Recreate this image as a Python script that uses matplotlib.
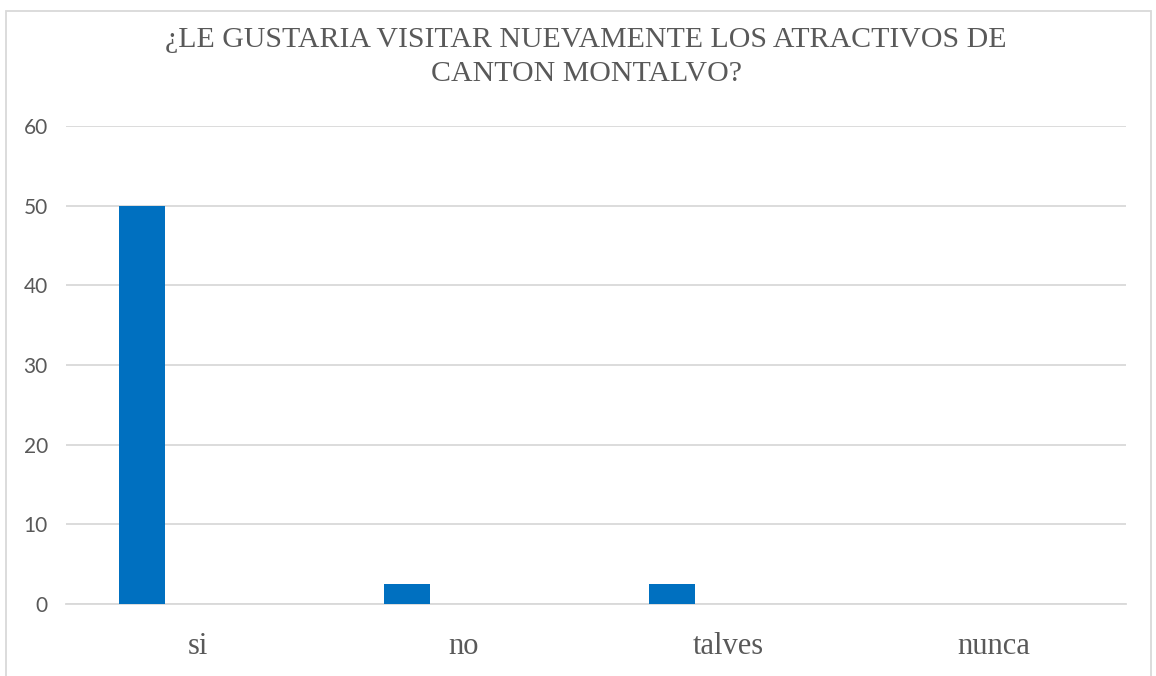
import matplotlib.pyplot as plt
import numpy as np
from matplotlib.patches import Rectangle

categorias = ["si", "no", "talves", "nunca"]
valores = [50, 2.5, 2.5, 0]
ticks_y = [0, 10, 20, 30, 40, 50, 60]

fig = plt.figure(figsize=(11.56, 6.76), dpi=100)
ax = fig.add_axes([0.057, 0.1065, 0.917, 0.7071])

x = np.arange(len(categorias))
ax.bar(x - 0.213, valores, width=0.174, color="#0070c0", zorder=3)

ax.set_xlim(-0.5, len(categorias) - 0.5)
ax.set_ylim(0, 60)
ax.set_yticks(ticks_y)
ax.set_yticklabels([str(t) for t in ticks_y], fontsize=15, color="#595959", family="Lato")
ax.set_xticks(x)
ax.set_xticklabels(categorias, fontsize=22, color="#595959", family="Liberation Serif")
ax.tick_params(length=0, axis="y", pad=13)
ax.tick_params(length=0, axis="x", pad=20)

ax.grid(axis="y", color="#d9d9d9", linewidth=1.3, zorder=0)
for s in ["top", "right", "left"]:
    ax.spines[s].set_visible(False)
ax.spines["bottom"].set_color("#d9d9d9")
ax.spines["bottom"].set_linewidth(1.3)

fig.text(0.507, 0.960, "¿LE GUSTARIA VISITAR NUEVAMENTE LOS ATRACTIVOS DE\nCANTON MONTALVO?",
         ha="center", va="top", fontsize=21.5, color="#595959", family="Liberation Serif",
         linespacing=1.42)

# borde del grafico
fig.patches.append(Rectangle((0.005, -0.01), 0.991, 1 - 0.016 + 0.01, transform=fig.transFigure,
                             fill=False, edgecolor="#d9d9d9", linewidth=1.3))

fig.savefig("out.png", dpi=100)
